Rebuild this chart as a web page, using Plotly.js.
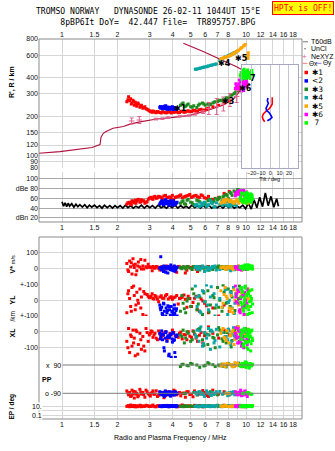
<!DOCTYPE html>
<html><head><meta charset="utf-8">
<script src="https://cdn.plot.ly/plotly-3.0.1.min.js"></script>
<style>html,body{margin:0;padding:0;background:#fff}#plot{width:335px;height:451px}</style>
</head><body><div id="plot"></div>
<script>
// ---------------- data ----------------
const freqTickVals = [1,1.5,2,3,4,5,6,7,8,9,10,12,14,16,18];
const topTickText  = ['1','1.5','2','3','4','5','6','7','8','','10','12','14','16','18'];
const midTickText  = ['1','1.5','2','3','4','5','6','7','8','9','10','12','14','16','18'];
const hTickVals = [80,90,100,120,150,200,300,400,600,800];
const hTickText = ['80','90','100','120','150','200','300','400','600','800'];
const dbTickVals = [100,80,60,40,20];
const dbTickText = ['100','dBe 80','60','40','dBn 20'];
const tiltTickVals = [-20,-10,0,10,20];

// real-height profile (NeXYZ inversion)
const profF = [0.75,0.975,1.456,1.609,1.629,1.677,1.735,1.823,1.893,2.154,2.342,2.654,3.271,4.026,4.963,6.114,7.526,8.531,9.05,9.667,10.09,10.38,10.09,8.89,7.526,5.85,4.563];
const profH = [103.5,106.6,114.8,121,138,148,152.9,157,162,167,174.5,181.6,191,197,204,222,246,272,303,341,384,413,440,487,543,640,741];
// NeXYZ points with error bars
const pinkF  = [2.39,2.63,3.24,3.51,3.78,4.38,4.90,5.28,5.85,6.28,6.92,7.53,8.17,8.89];
const pinkH  = [184.5,187.7,191.1,192.2,196.3,200.6,203.5,209,216.7,230.7,239,250,268.5,285.9];
const pinkHi = [194.7,199.9,194,195,199,203,206,213,222,256.8,275.9,283.4,301.6,318.3];
const pinkLo = [174.8,176.4,188,189.5,193.5,198,201,205,211,207.2,207.2,220.6,239,256.8];

// tilt inset
const tiltXH = [281.8,265.2,250,238.2,229.8,224.5,216.7,209.1,199.3,190.1,182.1];
const tiltX  = [2.1,1.8,2.1,0.4,-1.1,-3.2,-6.0,-7.5,-8.6,-7.8,-6.0];
const tiltYH = [278.4,265.2,253.2,241.2,231.5,221.8,213.9,205.3,197,190.1,185.4];
const tiltY  = [-2.5,-3.2,-2.1,-3.2,-4.6,-3.9,-1.1,0.4,1.8,-0.3,-3.2];

// noise amplitude
const noiseF = [1.00,1.02,1.04,1.06,1.08,1.10,1.13,1.16,1.19,1.22,1.25,1.29,1.33,1.37,1.41,1.45,1.50,1.55,1.60,1.65,1.70,1.76,1.82,1.88,1.94,2.00,2.07,2.14,2.21,2.28,2.36,2.44,2.52,2.61,2.70,2.80,2.90,3.00,3.10,3.21,3.33,3.45,3.57,3.70,3.83,3.97,4.11,4.26,4.41,4.57,4.73,4.90,5.08,5.26,5.45,5.65,5.85,6.06,6.28,6.50,6.74,6.98,7.23,7.49,7.76,8.04,8.33,8.63,8.94,9.26,9.60,9.94,10.30,10.67,11.05,11.45,11.86,12.29,12.73,13.19,13.66,14.15,14.66,15.00];
const noiseDB = [53,44,51,43,50,44,49,42,48,43,47,42,47,41,46,42,
  46,41,45,40,46,41,45,40,45,41,
  45,40,46,41,45,40,44,41,46,40,45,41,45,40,46,41,44,40,45,41,46,40,45,41,44,40,46,41,45,40,45,41,46,40,44,41,45,40,46,41,45,40,44,41,46,39,
  50,38,57,41,62,43,71,45,64,42,59,44];

// echo clusters
const redF  = [2.25,2.30,2.33,2.36,2.40,2.43,2.47,2.50,2.55,2.60,2.65,2.70,2.75,2.82,2.90,2.98,3.05,3.12,3.20,3.30,3.40,3.52,3.65,3.78,3.92,4.05,4.20,4.35,4.50,4.68,4.85,5.05,5.25,5.45,5.70,5.95,6.25,6.60,7.10,7.60,8.10,
  2.28,2.38,2.45,2.52,2.58,2.68,2.78,2.86,2.94,3.02,3.09,3.16,3.25,3.35,3.46,3.58,3.71,3.85,3.98,4.12,4.28,4.42,4.60,4.77,4.95,5.15,5.35,5.58,5.82,6.10];
const redR  = [260,285,265,275,255,268,245,258,240,250,236,244,232,238,228,222,218,221,216,219,215,218,214,217,213,216,218,215,220,217,222,219,224,221,228,225,232,238,245,255,265,
  270,250,262,248,255,240,235,230,225,220,216,219,214,217,213,216,214,218,215,217,214,219,216,220,218,223,220,226,223,230];
const redDB = [48,50,52,49,55,53,51,56,54,58,52,57,55,50,53,60,62,58,64,61,63,59,66,62,60,57,63,65,61,64,66,62,65,63,67,61,64,58,62,70,74,
  51,47,54,50,57,53,55,52,58,61,59,63,60,64,62,65,61,63,66,62,64,67,63,65,68,64,66,62,65,60];
const redV  = [30,-20,45,10,-35,60,5,25,-15,40,8,-5,15,50,3,10,5,12,0,8,-10,6,10,2,12,5,-25,9,4,-30,10,3,7,-20,8,5,12,4,9,2,6,
  -10,35,20,-40,15,55,-5,10,25,7,-15,4,11,0,9,-8,14,3,6,-18,10,2,8,-12,5,9,-6,11,3,7];
const redYL = [-80,60,10,-40,80,-110,30,-60,50,-20,70,20,-90,40,35,15,25,10,30,5,20,12,28,8,22,15,30,10,18,5,25,-40,12,-60,8,-20,-80,-50,-100,-30,-70,
  40,-70,90,-30,0,-50,55,-100,25,18,40,8,22,-10,28,12,35,15,5,20,-25,14,32,-45,10,-15,24,-70,-5,-35];
const redXL = [-60,20,-130,-20,-90,10,-40,-150,0,-80,-10,-110,-30,-120,-5,-20,5,-35,-10,-50,-15,-25,0,-40,-15,-5,-30,-10,-45,-20,0,-35,-15,-60,-5,-25,30,-10,-40,10,-20,
  -100,-30,-70,10,-140,-50,-90,20,-60,-10,0,-20,-40,5,-30,-8,-55,-12,10,-25,-35,-2,-18,-50,-28,5,-40,-22,-70,-15];
const redPP = [-75,-100,-85,-110,-70,-95,-120,-80,-90,-105,-65,-95,-85,-115,-80,-100,-90,-75,-95,-110,-85,-90,-105,-80,-95,-70,-100,-85,-90,-115,-80,-95,-75,-100,-90,-85,-110,-70,-95,-80,-100,
  -88,-105,-78,-95,-112,-82,-98,-70,-92,-108,-86,-96,-74,-102,-90,-118,-84,-94,-100,-76,-92,-106,-88,-80,-98,-112,-86,-94,-72,-104];
const redEP = [12,18,10,25,14,11,20,9,16,13,22,10,15,12,19,11,14,24,10,17,13,12,20,15,11,18,10,14,26,12,16,11,21,13,15,10,19,12,14,23,11,
  15,11,19,13,10,17,12,22,14,11,16,13,10,18,12,15,11,20,13,16,10,14,18,12,15,11,13,17,10,14];

const blueF  = [3.40,3.44,3.48,3.52,3.56,3.60,3.64,3.68,3.72,3.76,3.80,3.84,3.88,3.92,3.96,4.00,4.05,4.10,4.16,4.22,
  3.42,3.50,3.58,3.66,3.74,3.82,3.90,3.98,4.03,4.08,4.13,4.19];
const blueR  = [235,232,238,230,236,240,233,229,237,231,235,228,234,230,236,227,232,229,233,230,
  239,234,231,242,228,236,233,238,231,235,228,232];
const blueDB = [48,52,55,50,47,53,56,49,51,54,46,52,55,50,48,53,51,47,50,52,
  50,54,48,57,52,49,53,46,55,50,48,51];
const blueV  = [0,72,-10,8,-20,3,12,-5,6,-30,2,10,-8,4,-12,0,-15,6,-4,8,
  5,-6,15,-25,9,-3,20,1,-9,14,-18,4];
const blueYL = [-30,-60,-45,-90,-20,-70,-110,-50,-80,-35,-130,-60,-95,-40,-75,-120,-55,-85,-65,-100,
  -50,-85,-25,-100,-65,-40,-115,-70,-90,-30,-105,-55];
const blueXL = [-10,-30,5,-50,-20,-120,-40,0,-60,-25,-150,-35,-15,-160,-45,-5,-55,-130,-30,-20,
  -45,-15,-100,-5,-35,-140,-20,-65,-10,-50,-160,-25];
const bluePP = [-80,-95,-100,-85,-90,-110,-75,-95,-85,-100,-90,-80,-105,-95,-85,-90,-100,-80,-95,-88,
  -92,-84,-102,-78,-96,-88,-108,-82,-94,-100,-86,-90];
const blueEP = [12,15,10,18,13,11,16,12,20,14,10,13,17,11,15,12,19,13,10,14,
  13,11,16,12,14,10,17,13,11,15,12,18];

const greenF  = [4.40,4.55,4.70,4.85,5.00,5.20,5.40,5.60,5.80,6.00,6.20,6.40,6.60,6.80,7.00,7.20,7.40,7.60,7.80,8.00,8.20,8.40,8.60,8.80,9.00,9.20,9.40,9.60,9.90,10.30,
  4.48,4.62,4.78,5.10,5.50,5.90,6.30,6.70,7.10,7.50,7.90,8.30,8.70,9.10,9.50,10.10];
const greenR  = [245,255,240,250,238,242,235,250,255,245,250,248,255,260,262,268,265,272,280,278,288,295,300,310,318,330,340,335,350,355,
  250,238,246,236,244,250,246,258,265,270,276,292,305,325,345,352];
const greenDB = [50,55,48,58,52,47,56,53,50,49,55,58,52,60,57,62,55,65,68,60,72,66,75,70,78,73,68,76,62,58,
  53,49,56,51,55,48,57,54,59,63,66,70,73,77,74,64];
const greenV  = [5,10,-5,8,0,12,4,-10,6,3,9,0,-8,10,5,2,12,7,-6,4,10,3,8,-4,6,11,2,9,5,0,
  -3,7,12,-7,9,1,-12,6,14,-2,8,-9,4,13,-1,6];
const greenYL = [-70,-20,-80,10,-40,40,-60,20,-90,-10,60,-30,30,-50,80,0,-70,50,-20,70,-40,20,-80,40,-10,90,-60,30,-30,60,
  30,-55,-5,70,-25,45,-75,15,-45,95,-15,55,-65,10,75,-35];
const greenXL = [-20,10,-40,-10,-60,0,-30,20,-50,-15,-80,5,-35,-100,-20,10,-45,-5,-70,15,-25,-55,0,-40,30,-60,-10,-30,20,-50,
  -30,-70,0,-50,15,-85,-20,-40,25,-60,-5,-95,10,-35,-75,5];
const greenPP = [80,95,-90,85,100,-85,90,75,-95,88,105,-80,92,80,-100,85,95,-90,78,100,-85,90,82,-95,95,88,-90,80,100,-88,
  92,-92,88,96,-88,84,98,-96,90,82,94,-84,86,102,92,-95];
const greenEP = [13,10,17,12,15,11,20,14,10,16,12,18,11,14,22,13,10,15,12,19,11,16,13,10,14,21,12,15,11,17,
  12,16,11,14,10,18,13,15,12,17,11,14,19,12,16,10];

const tealF  = [5.30,5.42,5.55,5.68,5.80,5.95,6.10,6.25,6.40,6.55,6.70,6.90,7.80,7.95,8.10,8.25,8.40,8.55,8.70,8.85,
  5.36,5.62,5.87,6.18,6.47,6.78,7.20,7.45,7.70,8.02,8.32,8.62];
const tealR  = [465,468,472,476,480,484,488,494,498,502,507,512,585,590,598,604,612,620,628,636,
  466,474,482,491,500,510,545,560,580,594,608,624];
const tealDB = [45,48,43,50,46,52,44,47,55,49,42,51,46,53,48,44,50,47,52,45,
  47,44,49,45,51,43,48,46,50,44,49,47];
const tealV  = [5,-8,10,0,15,-20,6,3,-5,12,8,-10,4,10,0,-15,7,2,9,-6,
  12,-4,8,-12,2,14,-7,5,11,-3,6,-9];
const tealYL = [90,-40,30,-80,60,-10,95,-60,20,-120,40,-30,70,-90,0,50,-50,80,-20,30,
  20,-70,55,-30,85,-100,10,-45,65,-15,35,-85];
const tealXL = [-20,10,-60,30,-90,-5,-40,20,-110,0,-70,15,-30,-50,5,-80,-15,25,-45,-10,
  -35,5,-75,-20,10,-55,-95,-5,-30,15,-60,-25];
const tealPP = [-85,-100,-80,-95,-90,-110,-75,-90,-100,-85,-95,-80,-90,-105,-85,-95,-90,-80,-100,-88,
  -92,-80,-98,-86,-104,-90,-78,-96,-88,-100,-84,-94];
const tealEP = [12,16,10,14,19,11,13,17,10,15,12,20,11,14,13,18,10,15,12,16,
  14,11,17,12,15,10,13,16,11,14,12,18];

const orangeF  = [7.30,7.50,7.70,7.90,8.10,8.30,8.50,8.70,8.90,9.10,9.30,9.50,9.70,9.90,10.25,10.27,10.28,
  7.40,7.80,8.20,8.60,9.00,9.40,9.80,10.10,7.60,8.40];
const orangeR  = [560,570,575,585,590,601,615,626,640,655,670,688,705,725,565,595,625,
  565,580,595,620,648,680,715,580,572,608];
const orangeDB = [50,55,52,58,53,56,51,54,57,50,55,52,58,54,50,53,56,
  52,56,54,50,55,58,52,51,57,53];
const orangeV  = [3,8,-5,10,2,12,-8,5,0,15,4,-10,6,9,2,-3,7,
  6,-4,11,2,-7,8,4,-2,10,1];
const orangeYL = [60,-20,80,10,-50,30,-80,0,50,-30,20,-60,40,-10,70,-40,10,
  -45,25,-70,65,-15,45,-90,5,35,-55];
const orangeXL = [-10,20,-40,5,-70,-20,10,-50,-5,30,-30,0,-90,-15,15,-60,-25,
  10,-55,-25,-80,20,-45,-10,-65,-35,0];
const orangePP = [85,95,80,100,-90,90,78,105,88,-85,92,80,98,85,90,-95,95,
  88,-92,94,84,100,-88,92,86,96,82];
const orangeEP = [14,11,17,12,10,15,13,19,11,16,12,10,14,18,13,11,15,
  12,15,11,13,17,10,14,12,16,11];

const magF  = [8.75,8.90,9.05,9.15,9.25,9.35,9.45,9.55,9.65,9.75,9.85,9.95,10.05,10.15,8.80,9.20,
  8.85,9.10,9.30,9.50,9.70,9.90,10.10,9.00];
const magR  = [330,345,325,360,340,370,315,355,380,335,365,345,375,350,360,385,
  340,352,328,372,318,358,366,334];
const magDB = [65,70,72,68,75,63,70,74,67,72,66,69,73,64,71,76,
  68,74,66,71,76,65,70,73];
const magV  = [5,0,10,-5,8,3,-10,6,12,0,4,-8,7,2,9,-3,
  2,-6,9,4,-4,11,1,6];
const magYL = [90,40,-20,60,-60,10,80,-40,30,-90,50,0,-30,70,20,-70,
  -10,55,-80,25,-45,85,-20,65];
const magXL = [-10,-40,20,-70,0,-20,-90,10,-50,-30,15,-60,-5,-80,25,-35,
  -25,5,-60,-15,-100,0,-45,-70];
const magPP = [-80,-95,-100,-85,-90,-70,-105,-90,-85,-100,-75,-95,-90,-110,-85,-92,
  -88,-96,-82,-102,-94,-78,-90,-98];
const magEP = [12,15,10,18,13,11,16,12,20,14,10,13,17,11,15,12,
  14,11,16,13,10,15,12,17];

const limeF  = [9.30,9.40,9.50,9.60,9.70,9.80,9.90,10.00,10.10,10.20,10.30,10.40,10.50,10.60,10.70,10.80,9.45,9.75,10.05,10.35,
  9.35,9.55,9.65,9.85,9.95,10.15,10.25,10.45,10.55,10.65,10.75,10.85];
const limeR  = [420,440,400,455,410,430,395,445,415,460,425,405,440,420,450,430,390,465,400,435,
  410,430,445,405,425,450,415,435,395,440,455,420];
const limeDB = [60,55,68,52,70,58,65,50,72,62,56,66,53,69,59,64,71,54,67,57,
  63,57,70,61,66,55,69,60,64,52,67,58];
const limeV  = [5,10,0,15,-5,8,20,3,12,-8,6,18,2,10,-3,14,7,0,9,4,
  12,2,-6,16,6,-2,22,8,0,13,5,-5];
const limeYL = [70,20,-30,50,-70,0,90,-50,30,-90,40,-10,60,-40,10,-80,80,-20,35,-60,
  -15,55,-55,15,75,-35,45,-85,25,-5,65,-25];
const limeXL = [-15,10,-50,-5,-80,20,-30,0,-100,-20,15,-60,-10,-120,5,-40,-25,10,-70,-35,
  -45,-5,-90,15,-60,-15,-110,0,-30,-75,10,-55];
const limePP = [90,80,100,-90,95,85,110,75,-85,92,88,70,100,-95,85,95,80,90,105,-88,
  85,95,-92,100,82,90,-88,78,98,86,-96,92];
const limeEP = [13,10,16,12,18,11,14,10,17,13,12,19,11,15,10,14,12,16,11,13,
  11,15,12,17,10,14,13,16,12,11,15,18];

// cluster labels in the height panel
const lblText = ['✱1','✱3','✱4','✱5','✱6','7'];
const lblF = [4.43,7.99,7.64,9.39,9.94,10.85];
const lblH = [230.7,261.5,518,566,331,398];

// legend
const legText = ['✱1','<2','✱3','✱4','✱5','✱6',' 7'];
const colRed='#ff0000', colBlue='#0000ff', colGreen='#1f8a1f', colTeal='#0aa5a5', colOrange='#ffa500', colMag='#ff00ff', colLime='#00ff00';
const legColors = [colRed,colBlue,colGreen,colTeal,colOrange,colMag,colLime];

// ---------------- geometry helpers ----------------
const L=39, R=302, T=39, B=419;
const fx = px => (px-L)/(R-L);
const fy = py => (B-py)/(B-T);
const SANS = 'Liberation Sans, Arial, sans-serif';
const MONO = 'DejaVu Sans Mono, monospace';
const gridC = '#d6d6d6';
const tickFont = {family:SANS, size:7, color:'#111'};

const clusters = [
  {c:colRed, f:redF, r:redR, db:redDB, v:redV, yl:redYL, xl:redXL, pp:redPP, ep:redEP},
  {c:colBlue, f:blueF, r:blueR, db:blueDB, v:blueV, yl:blueYL, xl:blueXL, pp:bluePP, ep:blueEP},
  {c:colGreen, f:greenF, r:greenR, db:greenDB, v:greenV, yl:greenYL, xl:greenXL, pp:greenPP, ep:greenEP},
  {c:colTeal, f:tealF, r:tealR, db:tealDB, v:tealV, yl:tealYL, xl:tealXL, pp:tealPP, ep:tealEP},
  {c:colOrange, f:orangeF, r:orangeR, db:orangeDB, v:orangeV, yl:orangeYL, xl:orangeXL, pp:orangePP, ep:orangeEP},
  {c:colMag, f:magF, r:magR, db:magDB, v:magV, yl:magYL, xl:magXL, pp:magPP, ep:magEP},
  {c:colLime, f:limeF, r:limeR, db:limeDB, v:limeV, yl:limeYL, xl:limeXL, pp:limePP, ep:limeEP}
];

function pts(x, y, color, xa, ya, size) {
  return {type:'scatter', mode:'markers', x:x, y:y, xaxis:xa, yaxis:ya,
    marker:{symbol:'square', size:size||3, color:color, line:{width:0}}, hoverinfo:'skip', cliponaxis:true};
}

const traces = [];
traces.push({type:'scatter', mode:'lines', x:noiseF, y:noiseDB, xaxis:'x2', yaxis:'y2', line:{color:'#000', width:1.7}, hoverinfo:'skip'});
traces.push({type:'scatter', mode:'lines', x:profF, y:profH, xaxis:'x', yaxis:'y', line:{color:'#b0103c', width:1.1}, hoverinfo:'skip'});
clusters.forEach(k => {
  traces.push(pts(k.f, k.r, k.c, 'x', 'y'));
  traces.push(pts(k.f, k.db, k.c, 'x2', 'y2'));
  traces.push(pts(k.f, k.v, k.c, 'x3', 'y3'));
  traces.push(pts(k.f, k.yl, k.c, 'x3', 'y4'));
  traces.push(pts(k.f, k.xl, k.c, 'x3', 'y5'));
  traces.push(pts(k.f, k.pp, k.c, 'x3', 'y6'));
  traces.push(pts(k.f, k.ep, k.c, 'x3', 'y7'));
});
traces.push({type:'scatter', mode:'markers', x:pinkF, y:pinkH, xaxis:'x', yaxis:'y',
  marker:{symbol:'line-ew-open', size:4, color:'#e0628e', line:{color:'#e0628e', width:1}},
  error_y:{type:'data', symmetric:false, array:pinkHi.map((v,i)=>v-pinkH[i]), arrayminus:pinkH.map((v,i)=>v-pinkLo[i]), color:'#e0628e', thickness:1, width:2},
  hoverinfo:'skip'});
traces.push({type:'scatter', mode:'lines', x:tiltX, y:tiltXH, xaxis:'x4', yaxis:'y8', line:{color:colRed, width:1.6}, hoverinfo:'skip'});
traces.push({type:'scatter', mode:'lines', x:tiltY, y:tiltYH, xaxis:'x4', yaxis:'y8', line:{color:colBlue, width:1.6}, hoverinfo:'skip'});

function xAx(extra) {
  return Object.assign({type:'log', range:[-0.125,1.304], domain:[0,1], tickmode:'array', tickvals:freqTickVals,
    showgrid:true, gridcolor:gridC, gridwidth:1, zeroline:false, showline:false, ticks:'', tickfont:tickFont,
    tickangle:0, fixedrange:true}, extra);
}
function yAx(extra) {
  return Object.assign({showgrid:true, gridcolor:gridC, gridwidth:1, zeroline:false, showline:false, ticks:'',
    tickfont:tickFont, tickmode:'array', fixedrange:true}, extra);
}

const annotations = [];
function ann(px, py, text, o) {
  return Object.assign({xref:'paper', yref:'paper', x:fx(px), y:fy(py), text:text, showarrow:false,
    font:{family:SANS, size:7, color:'#000'}, xanchor:'center', yanchor:'middle', borderpad:0}, o||{});
}
annotations.push(ann(35, 16.5, 'TROMSO NORWAY   DYNASONDE 26-02-11 1044UT 15°E<br>\u00a0\u00a0\u00a0\u00a0\u00a08pBP6It DoY=  42.447 File=  TR895757.BPG',
  {xanchor:'left', align:'left', font:{family:MONO, size:8.1, color:'#000'}}));
annotations.push(ann(302.5, 8, 'HPTx is OFF!', {font:{family:MONO, size:8.1, color:'#ff0000'}, bgcolor:'#ffff00', bordercolor:'#ff0000', borderwidth:1, borderpad:1}));
annotations.push(ann(12, 82, "<b>R', R / km</b>", {textangle:-90}));
annotations.push(ann(11.5, 265, "<b>V*</b> <span style='font-size:5.5px'>m/s</span>", {textangle:-90}));
annotations.push(ann(11.5, 300, '<b>YL</b>', {textangle:-90}));
annotations.push(ann(11.5, 317, '/km', {textangle:-90, font:{family:SANS, size:6.5, color:'#000'}}));
annotations.push(ann(11.5, 333, '<b>XL</b>', {textangle:-90}));
annotations.push(ann(11.5, 407, '<b>EP / deg</b>', {textangle:-90, font:{family:SANS, size:6.5, color:'#000'}}));
annotations.push(ann(46.5, 379, '<b>PP</b>'));
annotations.push(ann(61.5, 365, 'x  90', {xanchor:'right'}));
annotations.push(ann(61.5, 393.5, 'o -90', {xanchor:'right'}));
annotations.push(ann(43, 406.5, '10.', {xanchor:'right', bgcolor:'#fff'}));
annotations.push(ann(43, 415, '0.1', {xanchor:'right', bgcolor:'#fff'}));
annotations.push(ann(170, 438, 'Radio and Plasma Frequency / MHz'));
lblText.forEach((t,i) => annotations.push({xref:'x', yref:'y', x:Math.log10(lblF[i]), y:Math.log10(lblH[i]), text:'<b>'+t+'</b>',
  showarrow:false, font:{family:'DejaVu Sans, sans-serif', size:8, color:'#000'}}));
annotations.push(ann(310, 41.7, 'T60dB', {xanchor:'left'}));
annotations.push(ann(310, 48.7, 'UnCl', {xanchor:'left'}));
annotations.push(ann(310, 56, 'NeXYZ', {xanchor:'left'}));
annotations.push(ann(304.5, 56, '+', {font:{family:SANS, size:8, color:'#e0628e'}}));
annotations.push(ann(308, 63.3, 'Θx', {xanchor:'left', font:{family:SANS, size:6.5, color:'#000'}}));
annotations.push(ann(322, 63.3, 'Θy', {xanchor:'left', font:{family:SANS, size:6.5, color:'#000'}}));
legText.forEach((t,i) => annotations.push(ann(311, 72.5+8.4*i, t, {xanchor:'left', font:{family:'DejaVu Sans, sans-serif', size:7.5, color:'#000'}})));

const shapes = [];
shapes.push({type:'rect', xref:'x', yref:'y', x0:9.476, x1:19.1, y0:80, y1:502, fillcolor:'#ffffff', line:{width:0}, layer:'between'});
shapes.push({type:'rect', xref:'paper', yref:'paper', x0:0, x1:1, y0:fy(222), y1:1, line:{color:'#8a8a8a', width:1}, layer:'above'});
shapes.push({type:'rect', xref:'paper', yref:'paper', x0:0, x1:1, y0:0, y1:fy(237), line:{color:'#8a8a8a', width:1}, layer:'above'});
shapes.push({type:'line', xref:'paper', yref:'y6', x0:fx(62.7), x1:1, y0:90, y1:90, line:{color:'#7c7c7c', width:1}});
shapes.push({type:'line', xref:'paper', yref:'y6', x0:fx(62.7), x1:1, y0:-90, y1:-90, line:{color:'#7c7c7c', width:1}});
shapes.push({type:'line', xref:'paper', yref:'paper', x0:fx(303), x1:fx(308), y0:fy(41.7), y1:fy(41.7), line:{color:'#a0a0a0', width:1.5}});
shapes.push({type:'rect', xref:'paper', yref:'paper', x0:fx(304.5), x1:fx(305.5), y0:fy(49.2), y1:fy(48.2), fillcolor:'#000', line:{width:0}});
shapes.push({type:'line', xref:'paper', yref:'paper', x0:fx(302.5), x1:fx(307.5), y0:fy(63.3), y1:fy(63.3), line:{color:'#f08080', width:1}});
shapes.push({type:'line', xref:'paper', yref:'paper', x0:fx(316.5), x1:fx(321.5), y0:fy(63.3), y1:fy(63.3), line:{color:'#8080f0', width:1}});
legColors.forEach((c,i) => shapes.push({type:'rect', xref:'paper', yref:'paper', x0:fx(304.5), x1:fx(308), y0:fy(72.5+8.4*i+1.75), y1:fy(72.5+8.4*i-1.75), fillcolor:c, line:{width:0}}));

const layout = {
  width:335, height:451,
  margin:{l:39, r:33, t:39, b:32, pad:0},
  paper_bgcolor:'#ffffff', plot_bgcolor:'rgba(0,0,0,0)',
  showlegend:false, hovermode:false,
  font:{family:SANS, size:7, color:'#000'},
  xaxis: xAx({anchor:'y', side:'top', ticktext:topTickText}),
  xaxis2: xAx({anchor:'y2', ticktext:midTickText}),
  xaxis3: xAx({anchor:'y7', ticktext:topTickText}),
  xaxis4: {domain:[fx(241.7), fx(297.7)], anchor:'y8', range:[-30.7,29.4], tickmode:'array', tickvals:tiltTickVals,
    showgrid:true, gridcolor:'#c4c4d6', zeroline:false, showline:true, mirror:true, linecolor:'#a8a8c4', linewidth:1,
    ticks:'', tickfont:{family:SANS, size:5.5, color:'#111'}, tickangle:0, fixedrange:true,
    title:{text:'Tilt / deg', font:{family:SANS, size:5.5, color:'#111'}, standoff:0}},
  yaxis: yAx({type:'log', domain:[fy(167.7),1], range:[Math.log10(80), Math.log10(800)], tickvals:hTickVals, ticktext:hTickText, anchor:'x'}),
  yaxis2: yAx({domain:[fy(222), fy(172)], range:[11.8,113.6], tickvals:dbTickVals, ticktext:dbTickText, gridcolor:'#a8a8a8', anchor:'x2'}),
  yaxis3: yAx({domain:[fy(284.3), fy(237)], range:[-100,195.6], tickvals:[100,0], ticktext:['100','0'], anchor:'x3'}),
  yaxis4: yAx({domain:[fy(316), fy(284.3)], range:[-100,100], tickvals:[100,0,-100], ticktext:['+-100','0','+-100'], anchor:'x3'}),
  yaxis5: yAx({domain:[fy(358), fy(316)], range:[-164,98], tickvals:[0,-100], ticktext:['0','-100'], anchor:'x3'}),
  yaxis6: yAx({domain:[fy(400), fy(358)], range:[-132.6,134.5], showgrid:false, showticklabels:false, tickvals:[], anchor:'x3'}),
  yaxis7: yAx({type:'log', domain:[0, fy(400)], range:[-1.964, 2.614], tickvals:[10,1,0.1], showticklabels:false, anchor:'x3'}),
  yaxis8: {type:'log', domain:[fy(167.7), fy(65)], range:[Math.log10(80), 2.701], anchor:'x4', showgrid:false, showticklabels:false,
    ticks:'', zeroline:false, showline:true, mirror:true, linecolor:'#a8a8c4', linewidth:1, fixedrange:true},
  annotations: annotations,
  shapes: shapes
};

Plotly.newPlot('plot', traces, layout, {staticPlot:true, displayModeBar:false});
</script></body></html>
